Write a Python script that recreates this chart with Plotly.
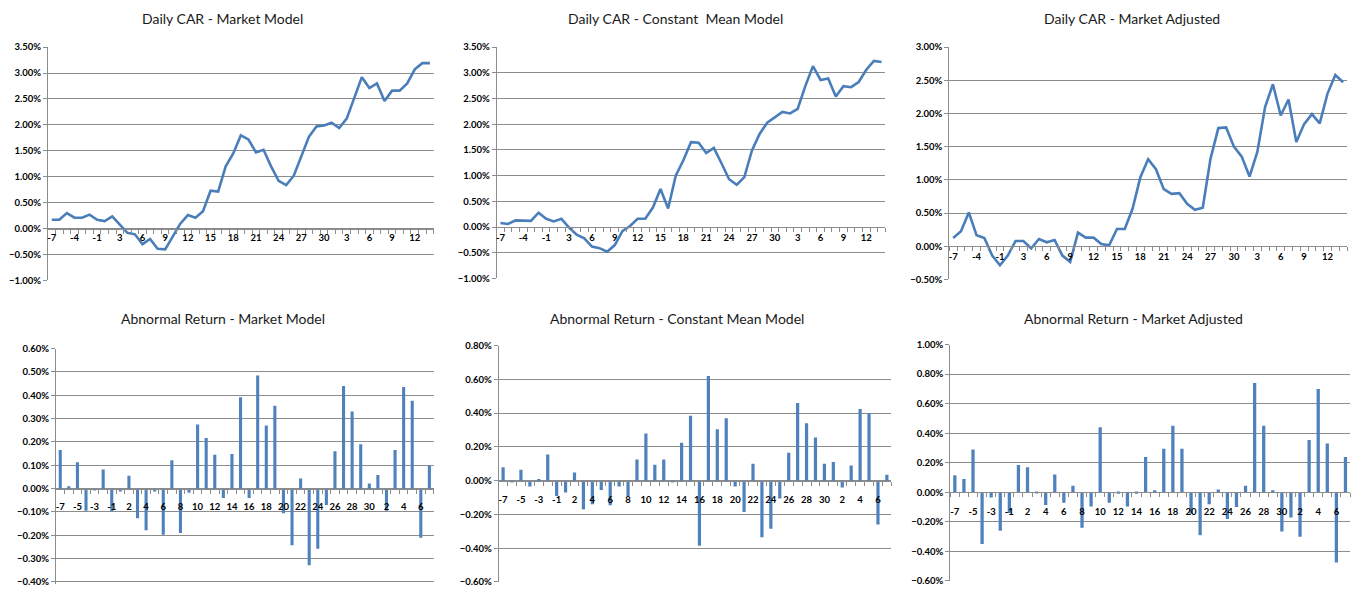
import plotly.graph_objects as go

W, H = 1357, 589  # reference canvas, used to convert pixel boxes to paper fractions
# the rendered paper lands on output rows [Y0, Y0 + PH]
Y0, PH = 6.0, 577.0

# ---------------- data ----------------
top_labels = ["-7", "-6", "-5", "-4", "-3", "-2", "-1",
              "1", "2", "3", "4", "5", "6", "7", "8", "9", "10", "11", "12", "13", "14", "15",
              "16", "17", "18", "19", "20", "21", "22", "23", "24", "25", "26", "27", "28", "29", "30",
              "1", "2", "3", "4", "5", "6", "7", "8", "9", "10", "11", "12", "13", "14"]

bottom_labels = ["-7", "-6", "-5", "-4", "-3", "-2", "-1",
                 "1", "2", "3", "4", "5", "6", "7", "8", "9", "10", "11", "12", "13", "14", "15",
                 "16", "17", "18", "19", "20", "21", "22", "23", "24", "25", "26", "27", "28", "29", "30",
                 "1", "2", "3", "4", "5", "6", "7"]

# Daily CAR (%)
car_market_model = [0.17, 0.17, 0.30, 0.21, 0.21, 0.27, 0.17, 0.145, 0.235, 0.08,
                    -0.08, -0.11, -0.30, -0.20, -0.39, -0.40, -0.16, 0.095, 0.26, 0.21,
                    0.335, 0.73, 0.715, 1.20, 1.45, 1.80, 1.72, 1.47, 1.52, 1.20,
                    0.92, 0.84, 1.02, 1.40, 1.77, 1.97, 1.99, 2.04, 1.94, 2.12,
                    2.52, 2.92, 2.71, 2.80, 2.46, 2.66, 2.66, 2.80, 3.07, 3.19, 3.19]

car_constant_mean = [0.08, 0.06, 0.13, 0.12, 0.12, 0.28, 0.16, 0.11, 0.16, -0.01,
                     -0.15, -0.22, -0.38, -0.41, -0.48, -0.35, -0.08, 0.02, 0.16, 0.16,
                     0.38, 0.74, 0.36, 1.00, 1.30, 1.65, 1.64, 1.44, 1.54, 1.24,
                     0.93, 0.82, 0.97, 1.49, 1.81, 2.03, 2.13, 2.24, 2.21, 2.30,
                     2.74, 3.13, 2.86, 2.89, 2.54, 2.74, 2.72, 2.82, 3.06, 3.23, 3.21]

car_market_adjusted = [0.125, 0.225, 0.51, 0.165, 0.125, -0.14, -0.285, -0.14, 0.08, 0.08,
                       -0.03, 0.11, 0.06, 0.095, -0.14, -0.235, 0.205, 0.13, 0.13, 0.035,
                       0.015, 0.26, 0.26, 0.565, 1.04, 1.31, 1.16, 0.86, 0.79, 0.80,
                       0.64, 0.55, 0.58, 1.32, 1.78, 1.79, 1.50, 1.35, 1.05, 1.42,
                       2.10, 2.44, 1.97, 2.21, 1.57, 1.84, 1.99, 1.85, 2.30, 2.58, 2.47]

# Abnormal returns (%)
ar_market_model = [0.165, 0.010, 0.113, -0.095, -0.005, 0.082, -0.098, -0.012, 0.055, -0.127,
                   -0.178, -0.012, -0.198, 0.122, -0.190, -0.018, 0.275, 0.217, 0.145, -0.040,
                   0.148, 0.392, -0.040, 0.485, 0.270, 0.355, -0.105, -0.243, 0.043, -0.328,
                   -0.258, -0.070, 0.160, 0.440, 0.330, 0.190, 0.022, 0.058, -0.095, 0.165,
                   0.435, 0.377, -0.210, 0.098]

ar_constant_mean = [0.080, -0.010, 0.065, -0.035, 0.010, 0.155, -0.090, -0.070, 0.048, -0.170,
                    -0.140, -0.055, -0.145, -0.035, -0.090, 0.125, 0.280, 0.095, 0.125, -0.010,
                    0.225, 0.385, -0.385, 0.620, 0.305, 0.370, -0.035, -0.185, 0.100, -0.335,
                    -0.285, -0.105, 0.165, 0.460, 0.340, 0.255, 0.100, 0.110, -0.040, 0.090,
                    0.425, 0.400, -0.260, 0.035]

ar_market_adjusted = [0.115, 0.090, 0.290, -0.350, -0.035, -0.260, -0.140, 0.185, 0.170, -0.005,
                      -0.085, 0.120, -0.070, 0.045, -0.240, -0.095, 0.440, -0.070, -0.010, -0.095,
                      -0.010, 0.240, 0.015, 0.295, 0.450, 0.295, -0.145, -0.290, -0.080, 0.020,
                      -0.180, -0.100, 0.045, 0.740, 0.450, 0.015, -0.265, -0.170, -0.300, 0.355,
                      0.700, 0.330, -0.475, 0.240]

titles = ["Daily CAR - Market Model", "Daily CAR - Constant  Mean Model", "Daily CAR - Market Adjusted",
          "Abnormal Return - Market Model", "Abnormal Return - Constant Mean Model",
          "Abnormal Return - Market Adjusted"]

# ---------------- styling / layout ----------------
LINE_COLOR = "#4A7EBB"
BAR_COLOR = "#4F81BD"
GRID = "#8C8C8C"
FONT = "Lato, sans-serif"

# box = (left, right, top, bottom) pixel rows of the axis extent (ymax at top, ymin at bottom)
panels = [
    dict(kind="line", values=car_market_model, labels=top_labels, step=3,
         yr=(-1.0, 3.5), dt=0.5, box=(47, 433, 47, 280), tc=(222, 18), stand=0),
    dict(kind="line", values=car_constant_mean, labels=top_labels, step=3,
         yr=(-1.0, 3.5), dt=0.5, box=(496, 885, 47, 278), tc=(675, 18), stand=2),
    dict(kind="line", values=car_market_adjusted, labels=top_labels, step=3,
         yr=(-0.5, 3.0), dt=0.5, box=(949, 1347, 47, 279), tc=(1132, 18), stand=1),
    dict(kind="bar", values=ar_market_model, labels=bottom_labels, step=2,
         yr=(-0.4, 0.6), dt=0.1, box=(55, 433, 348, 581), tc=(222, 318), stand=9, ext=583),
    dict(kind="bar", values=ar_constant_mean, labels=bottom_labels, step=2,
         yr=(-0.6, 0.8), dt=0.2, box=(498, 891, 345, 581), tc=(676, 318), stand=10),
    dict(kind="bar", values=ar_market_adjusted, labels=bottom_labels, step=2,
         yr=(-0.6, 1.0), dt=0.2, box=(950, 1350, 344, 580), tc=(1133, 318), stand=10),
]


def yfrac(ypix):
    f = 1 - (ypix - Y0) / PH
    return min(1.0, max(0.0, f))


fig = go.Figure()
layout = dict(
    autosize=True,
    margin=dict(l=0, r=0, t=0, b=0, pad=0),
    paper_bgcolor="white", plot_bgcolor="white",
    showlegend=False,
    font=dict(family=FONT, color="#000000"),
    annotations=[],
)

for k, p in enumerate(panels, start=1):
    xn = "x" if k == 1 else f"x{k}"
    yn = "y" if k == 1 else f"y{k}"
    xkey = "xaxis" if k == 1 else f"xaxis{k}"
    ykey = "yaxis" if k == 1 else f"yaxis{k}"
    n = len(p["values"])
    idx = list(range(n))
    if p["kind"] == "line":
        fig.add_trace(go.Scatter(x=idx, y=p["values"], mode="lines",
                                 line=dict(color=LINE_COLOR, width=2.6),
                                 xaxis=xn, yaxis=yn, hoverinfo="skip"))
    else:
        fig.add_trace(go.Bar(x=idx, y=p["values"], marker=dict(color=BAR_COLOR, line=dict(width=0)),
                             width=0.36, xaxis=xn, yaxis=yn, hoverinfo="skip"))

    l, r, t, b = p["box"]
    ymin, ymax = p["yr"]
    # optionally let the plot area run a little past the lowest gridline
    bot = p.get("ext", b)
    lo = ymin - (bot - b) * (ymax - ymin) / (b - t)
    xd = [l / W, r / W]
    yd = [yfrac(bot), yfrac(t)]
    frac = (0 - lo) / (ymax - lo)
    pos = yd[0] + frac * (yd[1] - yd[0])

    tickvals = idx[::p["step"]]
    ticktext = p["labels"][::p["step"]]

    layout[xkey] = dict(
        domain=xd, anchor="free", position=pos, range=[-0.5, n - 0.5],
        tickmode="array", tickvals=tickvals, ticktext=ticktext,
        ticks="", showgrid=False, zeroline=False,
        showline=True, linecolor=GRID, linewidth=1,
        ticklabelstandoff=p["stand"],
        tickfont=dict(family=FONT, size=9.5, color="#000000", weight="bold"),
        minor=dict(tickmode="array", tickvals=[i - 0.5 for i in range(n + 1)],
                   ticks="outside", ticklen=4, tickcolor=GRID, tickwidth=1, showgrid=False),
        fixedrange=True,
    )
    layout[ykey] = dict(
        domain=yd, anchor=xn, range=[lo, ymax],
        tickmode="linear", tick0=ymin, dtick=p["dt"],
        tickformat=".2f", ticksuffix="%",
        showgrid=True, gridcolor=GRID, gridwidth=1, zeroline=False,
        showline=True, linecolor=GRID, linewidth=1,
        ticks="outside", ticklen=4, tickcolor=GRID,
        tickfont=dict(family=FONT, size=9.5, color="#000000", weight="bold"),
        fixedrange=True,
    )
    cx, cy = p["tc"]
    layout["annotations"].append(dict(
        text=titles[k - 1], x=cx / W, y=yfrac(cy), xref="paper", yref="paper",
        xanchor="center", yanchor="middle", showarrow=False,
        font=dict(family=FONT, size=14, color="#1a1a1a"),
    ))

fig.update_layout(**layout)
fig.write_html(
    "out.html",
    default_width="100vw", default_height="100vh",
    config={"displayModeBar": False, "responsive": True},
    post_script=("document.documentElement.style.overflow='hidden';"
                 "document.body.style.margin='0';document.body.style.overflow='hidden';"
                 "var gd=document.getElementById('{plot_id}');"
                 "gd.style.position='fixed';gd.style.top='0px';gd.style.left='0px';"),
)
